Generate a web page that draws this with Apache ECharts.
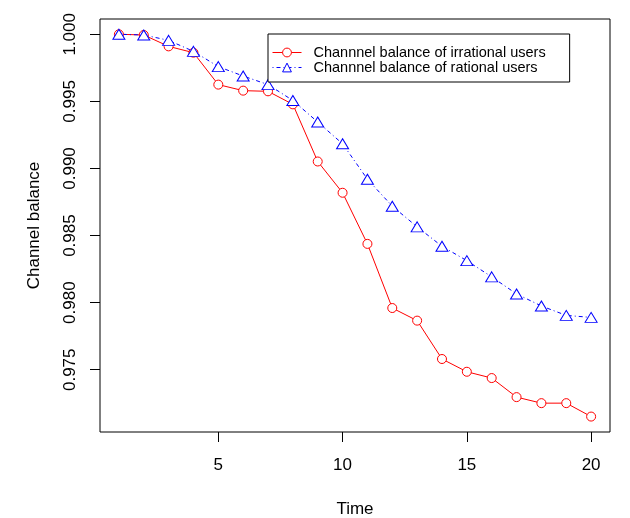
<!DOCTYPE html>
<html>
<head>
<meta charset="utf-8">
<script src="https://cdn.jsdelivr.net/npm/echarts@6/dist/echarts.min.js"></script>
<style>
  html, body { margin: 0; padding: 0; background: #fff; }
  #main { width: 630px; height: 518px; }
</style>
</head>
<body>
<div id="main"></div>
<script>
// values
var times = [1, 2, 3, 4, 5, 6, 7, 8, 9, 10, 11, 12, 13, 14, 15, 16, 17, 18, 19, 20];
var irrational = [1.0000, 0.99995, 0.9991, 0.99863, 0.99625, 0.9958, 0.99575, 0.99478, 0.99052, 0.98819,
                  0.98438, 0.9796, 0.97866, 0.9758, 0.97485, 0.97438, 0.97296, 0.97251, 0.97251, 0.97151];
var rational = [1.0000, 0.99995, 0.99955, 0.99873, 0.99759, 0.99689, 0.99625, 0.99507, 0.99346, 0.99184,
                0.9892, 0.98719, 0.98565, 0.9842, 0.98313, 0.98192, 0.98065, 0.97975, 0.97905, 0.9789];
var xTicks = [5, 10, 15, 20];
var yTicks = [0.975, 0.980, 0.985, 0.990, 0.995, 1.000];

var FONT = 'Liberation Sans, Arial, sans-serif';

function pairs(ys){
    var out = [];
    for (var i = 0; i < times.length; i++) out.push([times[i], ys[i]]);
    return out;
}

var myChart = echarts.init(document.getElementById('main'));
var option = {
    backgroundColor: '#fff',
    animation: false,
    textStyle: { fontFamily: FONT, color: '#000' },
    grid: {
        left: 100, right: 20, top: 19, bottom: 86,
        outerBoundsMode: 'none',
        show: true, borderColor: '#000', borderWidth: 1
    },
    legend: {
        orient: 'vertical',
        left: 268, top: 34,
        padding: [11, 24, 7, 4],
        itemGap: 0,
        itemWidth: 29, itemHeight: 11,
        borderColor: '#000', borderWidth: 1,
        backgroundColor: '#fff',
        itemStyle: { borderWidth: 1 },
        lineStyle: { width: 1 },
        textStyle: { fontFamily: FONT, fontSize: 14.5, lineHeight: 15, color: '#000', padding: [0, 0, 0, 7] },
        data: ['Channnel balance of irrational users', 'Channnel balance of rational users']
    },
    xAxis: {
        type: 'value',
        min: 0.24, max: 20.76,
        name: 'Time',
        nameLocation: 'middle',
        nameGap: 69,
        nameTextStyle: { fontFamily: FONT, fontSize: 17, color: '#000' },
        splitLine: { show: false },
        axisLine: { show: false },
        axisTick: { show: true, length: 10, customValues: xTicks, lineStyle: { color: '#000' } },
        axisLabel: { customValues: xTicks, margin: 25, fontSize: 17, color: '#000', fontFamily: FONT }
    },
    yAxis: {
        type: 'value',
        min: 0.97036, max: 1.00114,
        name: 'Channel balance',
        nameLocation: 'middle',
        nameGap: 57,
        nameTextStyle: { fontFamily: FONT, fontSize: 17, color: '#000' },
        splitLine: { show: false },
        axisLine: { show: false },
        axisTick: { show: true, length: 10, customValues: yTicks, lineStyle: { color: '#000' } },
        axisLabel: {
            customValues: yTicks, rotate: 90, margin: 21, fontSize: 17, color: '#000', fontFamily: FONT,
            formatter: function(v){ return v.toFixed(3); }
        }
    },
    series: [
        {
            name: 'Channnel balance of irrational users',
            type: 'line',
            data: pairs(irrational),
            symbol: 'circle',
            symbolSize: 9,
            lineStyle: { color: '#ff0000', width: 1 },
            itemStyle: { color: '#ffffff', borderColor: '#ff0000', borderWidth: 1 }
        },
        {
            name: 'Channnel balance of rational users',
            type: 'line',
            data: pairs(rational),
            symbol: 'triangle',
            symbolSize: [12, 10],
            lineStyle: { color: '#0000ff', width: 1, type: [1, 3, 4, 3] },
            itemStyle: { color: '#ffffff', borderColor: '#0000ff', borderWidth: 1 }
        }
    ]
};
myChart.setOption(option);
</script>
</body>
</html>
